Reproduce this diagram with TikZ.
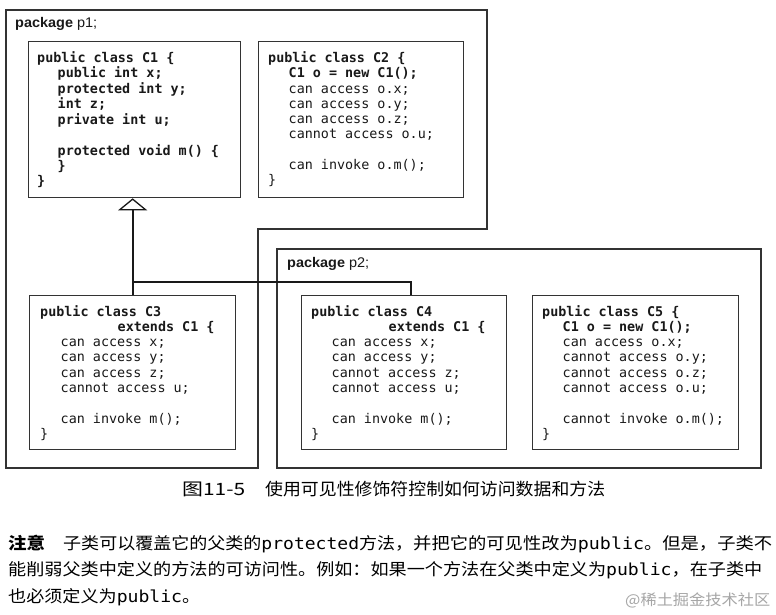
\documentclass[tikz,border=0pt]{standalone}
\usepackage{fontspec}
\usepackage{graphicx}
\setmainfont{Liberation Sans}
\newfontfamily\codefont{DejaVu Sans Mono}
\newfontfamily\cjk{Noto Sans CJK SC}
\usetikzlibrary{arrows.meta}
\newcommand{\ind}{\hspace*{20.5pt}}
\newcommand{\ext}{\hspace*{77.5pt}}
\newcommand{\lat}[1]{{\codefont #1}}
\tikzset{
  pkg/.style={draw=black!80, line width=1.2pt},
  classbox/.style={draw=black!80, line width=1.3pt, fill=white, anchor=north west, inner sep=0pt},
  code/.style={anchor=base west, inner sep=0pt, text=black!90,
    font=\codefont\fontsize{13.4}{15.3}\selectfont},
  conn/.style={line width=1.8pt, draw=black!90},
  pkglabel/.style={anchor=base west, inner sep=0pt, text=black!90, font=\fontsize{14}{16}\selectfont},
  notestyle/.style={anchor=base west, inner sep=0pt, font=\cjk\fontsize{16.5}{20}\selectfont},
  captionstyle/.style={anchor=base west, inner sep=0pt, font=\cjk\fontsize{17}{20}\selectfont},
}
\begin{document}
\begin{tikzpicture}[x=1pt, y=-1pt]
\useasboundingbox (0,0) rectangle (776,615);
\fill[white] (0,0) rectangle (776,615);

% packages
\draw[pkg] (6,10) -- (487,10) -- (487,229) -- (258,229) -- (258,468) -- (6,468) -- cycle;
\draw[pkg] (277,249) rectangle (761,468);
\node[pkglabel] (p1label) at (15,28) {\resizebox{82pt}{\height}{\textbf{package} p1;}};
\node[pkglabel] (p2label) at (287,267) {\resizebox{82pt}{\height}{\textbf{package} p2;}};

% class boxes
\node[classbox, minimum width=212pt, minimum height=156pt] (C1box) at (28,41) {};
\node[classbox, minimum width=205pt, minimum height=156pt] (C2box) at (258,41) {};
\node[classbox, minimum width=206pt, minimum height=154pt] (C3box) at (29,295) {};
\node[classbox, minimum width=205pt, minimum height=154pt] (C4box) at (301,295) {};
\node[classbox, minimum width=206pt, minimum height=154pt] (C5box) at (532,295) {};

% code
\node[code, font=\codefont\bfseries\fontsize{13.4}{15.3}\selectfont] (C1code) at (37,62.5) {\begin{tabular}[t]{@{}l@{}}
public class C1 \{\\
\ind public int x;\\
\ind protected int y;\\
\ind int z;\\
\ind private int u;\\
\\
\ind protected void m() \{\\
\ind \}\\
\}
\end{tabular}};

\node[code] (C2code) at (268,62.5) {\begin{tabular}[t]{@{}l@{}}
\bfseries public class C2 \{\\
\ind\bfseries C1 o = new C1();\\
\ind can access o.x;\\
\ind can access o.y;\\
\ind can access o.z;\\
\ind cannot access o.u;\\
\\
\ind can invoke o.m();\\
\}
\end{tabular}};

\node[code] (C3code) at (40,316) {\begin{tabular}[t]{@{}l@{}}
\bfseries public class C3\\
\ext\bfseries extends C1 \{\\
\ind can access x;\\
\ind can access y;\\
\ind can access z;\\
\ind cannot access u;\\
\\
\ind can invoke m();\\
\}
\end{tabular}};

\node[code] (C4code) at (311,316) {\begin{tabular}[t]{@{}l@{}}
\bfseries public class C4\\
\ext\bfseries extends C1 \{\\
\ind can access x;\\
\ind can access y;\\
\ind cannot access z;\\
\ind cannot access u;\\
\\
\ind can invoke m();\\
\}
\end{tabular}};

\node[code] (C5code) at (542,316) {\begin{tabular}[t]{@{}l@{}}
\bfseries public class C5 \{\\
\ind\bfseries C1 o = new C1();\\
\ind can access o.x;\\
\ind cannot access o.y;\\
\ind cannot access o.z;\\
\ind cannot access o.u;\\
\\
\ind cannot invoke o.m();\\
\}
\end{tabular}};

% inheritance
\draw[conn, -{Triangle[open, width=29pt, length=12pt, line width=1.3pt]}] (C3box.north) -- (C3box.north |- C1box.south);
\coordinate (j) at (C3box.north |- 0,282);
\draw[conn] ([xshift=7pt]C4box.north) |- (j);

% caption
\node[captionstyle] (caplabel) at (182,495) {\resizebox{63pt}{\height}{图11-5}};
\node[captionstyle] (captext) at (265,495) {\resizebox{340pt}{\height}{使用可见性修饰符控制如何访问数据和方法}};

% note
\node[notestyle] (n1a) at (8,549) {\resizebox{37pt}{\height}{\bfseries 注意}};
\node[notestyle] (n1b) at (63,549) {\resizebox{350pt}{\height}{子类可以覆盖它的父类的\lat{protected}方法，}};
\node[notestyle] (n1c) at (413,549) {\resizebox{359pt}{\height}{并把它的可见性改为\lat{public}。但是，子类不}};
\node[notestyle] (n2) at (8,575) {\resizebox{754pt}{\height}{能削弱父类中定义的方法的可访问性。例如：如果一个方法在父类中定义为\lat{public}，在子类中}};
\node[notestyle] (n3) at (8,602) {\resizebox{192pt}{\height}{也必须定义为\lat{public}。}};

% watermark
\node[anchor=base west, inner sep=0pt, text=black!35, font=\cjk\fontsize{15}{18}\selectfont] (wm) at (625,605) {\resizebox{145pt}{\height}{@稀土掘金技术社区}};
\end{tikzpicture}
\end{document}
